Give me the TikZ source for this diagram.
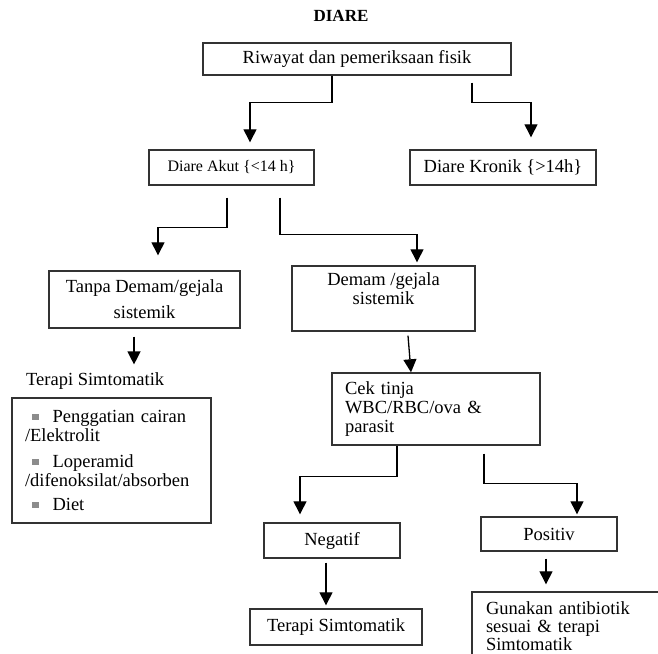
\documentclass[tikz,border=0pt]{standalone}
\usepackage{fontspec}
\setmainfont{Liberation Serif}
\usetikzlibrary{arrows.meta}
\newcommand{\sqbul}{\raisebox{2.5pt}{\textcolor{black!45}{\rule{6.5pt}{6.5pt}}}}
\begin{document}
\begin{tikzpicture}[x=1pt,y=-1pt,
 box/.style={draw=black!80,line width=1.4pt,inner sep=0pt,font=\fontsize{18.5}{19}\selectfont},
 arr/.style={line width=1.3pt,-{Triangle[width=13pt,length=13pt]}}]
 \clip (0,0) rectangle (658,653);
 \node[font=\fontsize{17}{19}\selectfont\bfseries] (diare) at (341,16) {DIARE};
 \node[box,minimum width=308pt,minimum height=32pt] (riwayat) at (357,59) {Riwayat dan pemeriksaan fisik};
 \node[box,minimum width=165pt,minimum height=35pt,font=\fontsize{16}{18}\selectfont] (akut) at (231.5,167.5) {Diare Akut \{<14 h\}};
 \node[box,minimum width=186pt,minimum height=35pt] (kronik) at (503,167.5) {Diare Kronik \{>14h\}};
 \node[box,minimum width=191pt,minimum height=57pt,align=center] (tanpa) at (144.5,299.5) {Tanpa Demam/gejala\\[7pt]sistemik};
 \node[box,minimum width=183pt,minimum height=65pt,align=center] (demam) at (383.5,298.5) {Demam /gejala\\sistemik\\\mbox{}};
 \node[inner sep=0pt,anchor=west,font=\fontsize{18.5}{19}\selectfont] (terapiA) at (26,381) {Terapi Simtomatik};
 \node[box,minimum width=199pt,minimum height=125pt,text width=173pt,align=left] (daftar) at (111.5,460.5)
  {\hspace*{7pt}\sqbul\hspace{14pt}Penggatian cairan\\/Elektrolit\\[7pt]
   \hspace*{7pt}\sqbul\hspace{14pt}Loperamid\\/difenoksilat/absorben\\[5pt]
   \hspace*{7pt}\sqbul\hspace{14pt}Diet};
 \node[box,minimum width=208pt,minimum height=72pt,text width=182pt,align=left] (cek) at (436,409) {Cek tinja\\WBC/RBC/ova \&\\parasit};
 \node[box,minimum width=136pt,minimum height=35pt] (negatif) at (332,540.5) {Negatif};
 \node[box,minimum width=136pt,minimum height=34pt] (positiv) at (549,534) {Positiv};
 \node[box,minimum width=172pt,minimum height=36pt] (terapiB) at (336,627) {Terapi Simtomatik};
 \node[box,minimum width=190pt,minimum height=68pt,text width=162pt,align=left,
  font=\fontsize{18.5}{18}\selectfont] (gunakan) at (567,626) {Gunakan antibiotik\\sesuai \& terapi\\Simtomatik};
 \draw[arr] ([xshift=-25pt]riwayat.south) -- ++(0,27) -| ([xshift=18.5pt,yshift=7pt]akut.north);
 \draw[arr] ([xshift=115pt,yshift=-7pt]riwayat.south) -- ++(0,20) -| ([xshift=28pt,yshift=12pt]kronik.north);
 \draw[arr] ([xshift=-4.5pt,yshift=-12pt]akut.south) -- ++(0,30) -| ([xshift=13.5pt,yshift=15pt]tanpa.north);
 \draw[arr] ([xshift=48.5pt,yshift=-12pt]akut.south) -- ++(0,37) -| ([xshift=33.5pt,yshift=3pt]demam.north);
 \draw[arr] ([xshift=-10.5pt,yshift=-8pt]tanpa.south) -- ([xshift=-10.5pt,yshift=8pt]terapiA.north -| tanpa.south);
 \draw[arr] ([xshift=24.5pt,yshift=-4pt]demam.south) -- ([xshift=-25pt]cek.north);
 \draw[arr] ([xshift=-39pt]cek.south) -- ++(0,31) -| ([xshift=-32pt,yshift=8pt]negatif.north);
 \draw[arr] ([xshift=48pt,yshift=-8pt]cek.south) -- ++(0,30) -| ([xshift=28pt,yshift=2pt]positiv.north);
 \draw[arr] ([xshift=-6pt,yshift=-4pt]negatif.south) -- ([xshift=-10pt,yshift=3pt]terapiB.north);
 \draw[arr] ([xshift=-3pt,yshift=-7pt]positiv.south) -- ([xshift=-21pt,yshift=7pt]gunakan.north);
\end{tikzpicture}
\end{document}
